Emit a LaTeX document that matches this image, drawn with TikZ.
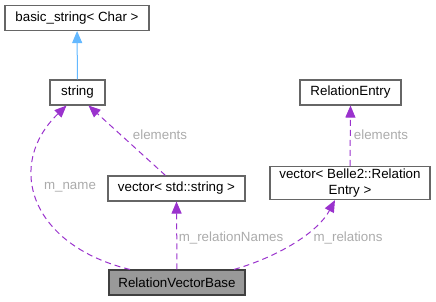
\documentclass[tikz,border=0pt]{standalone}
\usepackage{fontspec}
\setmainfont{Liberation Sans}
\usetikzlibrary{arrows.meta,positioning,calc}
\definecolor{inhblue}{HTML}{63B8FF}
\definecolor{usepurple}{HTML}{9A32CD}
\definecolor{lblgrey}{HTML}{ABABAB}
\definecolor{boxgrey}{HTML}{666666}

\begin{document}
\begin{tikzpicture}[x=0.75pt,y=-0.75pt, box/.style={draw=boxgrey,fill=white,line width=0.8pt,align=center,inner sep=2pt,minimum height=18.75pt,font=\fontsize{10}{11.5}\selectfont}, lbl/.style={text=lblgrey,font=\fontsize{10}{11.5}\selectfont}, uses/.style={draw=usepurple,line width=0.75pt,dash pattern=on 4.5pt off 3pt,-{Triangle[length=9pt,width=7.5pt,fill=usepurple]}}, inh/.style={draw=inhblue,line width=0.75pt,-{Triangle[length=9pt,width=7.5pt,fill=inhblue]}}, >=Stealth]
\useasboundingbox (0,0) rectangle (436,301);
\node[box, minimum width=108pt] (base) at (77,18) {basic\_string< Char >};
\node[box, minimum width=41.25pt] (str) at (77.5,92.5) {string};
\draw[inh] (str) -- (base);
\node[box, minimum width=102.75pt] (vecstr) at (176.5,188.5) {vector< std::string >};
\node[box, minimum width=75.75pt] (relentry) at (350.5,92.5) {RelationEntry};
\node[box, minimum width=120pt, minimum height=24pt] (vecrel) at (350,183) {vector< Belle2::Relation\\Entry >};
\node[box, draw=black!75, fill=black!40, minimum width=102pt] (rvb) at (177,282.5) {RelationVectorBase};
\draw[uses] ($(rvb.north)+(-47,0)$) .. controls (30,245) and (5,165) .. ($(str.south)+(-11,0)$);
\draw[uses] ($(vecstr.north)+(-11,0)$) -- ($(str.south)+(11,0)$);
\draw[uses] (rvb.north) -- (vecstr.south);
\draw[uses] ($(rvb.north)+(57,0)$) .. controls (280,256) and (318,232) .. ($(vecrel.south)+(-15,0)$);
\draw[uses] (vecrel.north) -- (relentry.south);
\node[lbl] (lname) at (70,187) {m\_name};
\node[lbl] (lelem) at (160,135) {elements};
\node[lbl] (lnames) at (231,238) {m\_relationNames};
\node[lbl] (lrels) at (348,238) {m\_relations};
\node[lbl] (lelem2) at (381,135) {elements};
\end{tikzpicture}
\end{document}
